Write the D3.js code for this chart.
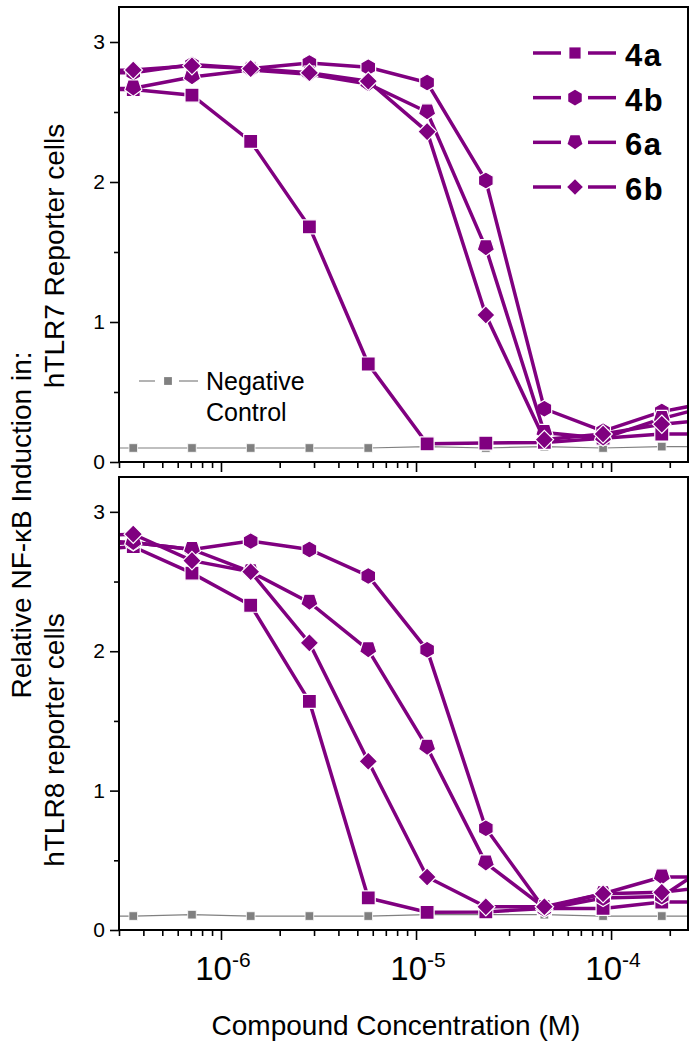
<!DOCTYPE html>
<html>
<head>
<meta charset="utf-8">
<script src="https://cdn.jsdelivr.net/npm/d3@7"></script>
<style>
  body { margin: 0; background: #fff; }
  svg text { font-family: "Liberation Sans", Arial, Helvetica, sans-serif; fill: #000; }
</style>
</head>
<body>
<div id="chart"></div>
<script>
// concentrations (M), 2-fold dilutions; first and last lie outside the plotted range
const concentrations = [1.78e-7, 3.55e-7, 7.1e-7, 1.42e-6, 2.84e-6, 5.69e-6, 1.14e-5, 2.28e-5, 4.55e-5, 9.1e-5, 1.82e-4, 3.64e-4];

// hTLR7 reporter cells
const tlr7_4a = [2.66, 2.66, 2.62, 2.29, 1.68, 0.70, 0.13, 0.135, 0.14, 0.17, 0.20, 0.20];
const tlr7_4b = [2.78, 2.78, 2.84, 2.81, 2.85, 2.82, 2.71, 2.01, 0.38, 0.22, 0.36, 0.44];
const tlr7_6a = [2.66, 2.67, 2.75, 2.80, 2.77, 2.70, 2.50, 1.53, 0.21, 0.17, 0.31, 0.42];
const tlr7_6b = [2.79, 2.80, 2.83, 2.81, 2.78, 2.72, 2.36, 1.05, 0.16, 0.20, 0.27, 0.31];
const tlr7_neg = [0.10, 0.10, 0.10, 0.10, 0.10, 0.10, 0.11, 0.10, 0.11, 0.10, 0.11, 0.11];

// hTLR8 reporter cells
const tlr8_4a = [2.72, 2.75, 2.56, 2.33, 1.64, 0.23, 0.127, 0.13, 0.155, 0.155, 0.20, 0.20];
const tlr8_4b = [2.80, 2.78, 2.73, 2.79, 2.73, 2.54, 2.01, 0.73, 0.15, 0.23, 0.24, 0.52];
const tlr8_6a = [2.76, 2.78, 2.73, 2.57, 2.35, 2.01, 1.31, 0.48, 0.16, 0.26, 0.38, 0.38];
const tlr8_6b = [2.82, 2.84, 2.65, 2.57, 2.06, 1.21, 0.38, 0.167, 0.167, 0.26, 0.27, 0.32];
const tlr8_neg = [0.10, 0.10, 0.11, 0.10, 0.10, 0.10, 0.11, 0.11, 0.11, 0.10, 0.10, 0.10];

const compounds = ["4a", "4b", "6a", "6b"];
const shapes = ["square", "hexagon", "pentagon", "diamond"];
const yMajorTicks = [0, 1, 2, 3];
const yMinorTicks = [0.5, 1.5, 2.5];
const xMajorTicks = [1e-6, 1e-5, 1e-4];
const xTickExponents = ["-6", "-5", "-4"];

const purple = "#800080";
const grey = "#808080";

// marker sizes for data points and legend
const markerSize = { square: 7, hexagon: 8.5, pentagon: 9, diamond: 9.2, grey: 4.3 };
const legendSize = { square: 5.6, hexagon: 7.8, pentagon: 7.8, diamond: 7.8, grey: 3.9 };

function shapePath(shape, r) {
  let pts;
  if (shape === "square") {
    return `M${-r},${-r}H${r}V${r}H${-r}Z`;
  } else if (shape === "diamond") {
    pts = [[0, -r], [r, 0], [0, r], [-r, 0]];
  } else if (shape === "hexagon") {
    pts = d3.range(6).map((i) => {
      const a = (Math.PI / 3) * i - Math.PI / 2;
      return [r * Math.cos(a), r * Math.sin(a)];
    });
  } else {
    // pentagon, point down
    pts = d3.range(5).map((i) => {
      const a = ((2 * Math.PI) / 5) * i + Math.PI / 2;
      return [r * Math.cos(a), r * Math.sin(a) - r * 0.1];
    });
  }
  return "M" + pts.map((p) => p.join(",")).join("L") + "Z";
}

const width = 697;
const height = 1050;

const svg = d3
  .select("#chart")
  .append("svg")
  .attr("width", width)
  .attr("height", height);

const x = d3.scaleLog().domain([3e-7, 2.48e-4]).range([119, 688]);

class DosePanel {
  constructor(cfg) {
    this.cfg = cfg;
    this.initVis();
  }

  initVis() {
    let vis = this;
    const c = vis.cfg;

    vis.y = d3.scaleLinear().domain([0, 3.25]).range([c.bottom, c.top]);

    vis.g = svg.append("g").attr("class", "panel-" + c.id);

    vis.g
      .append("clipPath")
      .attr("id", "clip-" + c.id)
      .append("rect")
      .attr("x", x.range()[0])
      .attr("y", c.top)
      .attr("width", x.range()[1] - x.range()[0])
      .attr("height", c.bottom - c.top);

    vis.plot = vis.g.append("g").attr("clip-path", `url(#clip-${c.id})`);
  }

  renderVis() {
    let vis = this;
    const c = vis.cfg;
    const y = vis.y;

    const line = d3
      .line()
      .x((d) => x(d[0]))
      .y((d) => y(d[1]));

    // negative control
    const negPts = concentrations.map((cc, i) => [cc, c.negative[i]]);
    vis.plot
      .append("path")
      .attr("d", line(negPts))
      .attr("fill", "none")
      .attr("stroke", grey)
      .attr("stroke-width", 1.2);
    vis.plot
      .selectAll(".neg-pt")
      .data(negPts)
      .join("path")
      .attr("class", "neg-pt")
      .attr("transform", (d) => `translate(${x(d[0])},${y(d[1])})`)
      .attr("d", shapePath("square", markerSize.grey))
      .attr("fill", grey)
      .attr("stroke", "#fff")
      .attr("stroke-width", 0.8);

    // compounds
    c.series.forEach((vals, si) => {
      const pts = concentrations.map((cc, i) => [cc, vals[i]]);
      const sg = vis.plot.append("g").attr("class", "series-" + compounds[si]);
      sg.append("path")
        .attr("d", line(pts))
        .attr("fill", "none")
        .attr("stroke", purple)
        .attr("stroke-width", 3.5);
      sg.selectAll(".pt")
        .data(pts)
        .join("path")
        .attr("class", "pt")
        .attr("transform", (d) => `translate(${x(d[0])},${y(d[1])})`)
        .attr("d", shapePath(shapes[si], markerSize[shapes[si]]))
        .attr("fill", purple)
        .attr("stroke", "#fff")
        .attr("stroke-width", 1.2);
    });

    // frame
    vis.g
      .append("rect")
      .attr("x", x.range()[0])
      .attr("y", c.top)
      .attr("width", x.range()[1] - x.range()[0])
      .attr("height", c.bottom - c.top)
      .attr("fill", "none")
      .attr("stroke", "#000")
      .attr("stroke-width", 2);

    // y axis
    const yAxis = d3
      .axisLeft(y)
      .tickValues(yMajorTicks)
      .tickSize(9)
      .tickSizeOuter(0)
      .tickPadding(5)
      .tickFormat(d3.format("d"));
    const yAxisG = vis.g
      .append("g")
      .attr("transform", `translate(${x.range()[0]},0)`)
      .call(yAxis);
    yAxisG.select(".domain").remove();
    yAxisG.selectAll("line").attr("stroke-width", 1.6);
    yAxisG.selectAll("text").attr("font-size", 21).style("font-family", '"Liberation Sans", Arial, sans-serif');

    const yMinor = d3.axisLeft(y).tickValues(yMinorTicks).tickSize(5).tickSizeOuter(0).tickFormat("");
    const yMinorG = vis.g
      .append("g")
      .attr("transform", `translate(${x.range()[0]},0)`)
      .call(yMinor);
    yMinorG.select(".domain").remove();
    yMinorG.selectAll("line").attr("stroke-width", 1.6);

    // x axis
    const xMinorVals = [];
    [-7, -6, -5, -4].forEach((e) => {
      d3.range(2, 10).forEach((m) => {
        const v = m * Math.pow(10, e);
        if (v >= x.domain()[0] && v <= x.domain()[1]) xMinorVals.push(v);
      });
    });

    const xAxis = d3.axisBottom(x).tickValues(xMajorTicks).tickSize(10).tickSizeOuter(0).tickFormat("");
    const xAxisG = vis.g
      .append("g")
      .attr("transform", `translate(0,${c.bottom})`)
      .call(xAxis);
    xAxisG.select(".domain").remove();
    xAxisG.selectAll("line").attr("stroke-width", 1.6);

    const xMinor = d3.axisBottom(x).tickValues(xMinorVals).tickSize(6).tickSizeOuter(0).tickFormat("");
    const xMinorG = vis.g
      .append("g")
      .attr("transform", `translate(0,${c.bottom})`)
      .call(xMinor);
    xMinorG.select(".domain").remove();
    xMinorG.selectAll("line").attr("stroke-width", 1.6);

    if (c.showXLabels) {
      xMajorTicks.forEach((v, i) => {
        const t = vis.g
          .append("text")
          .attr("x", x(v) + 2)
          .attr("y", c.bottom + 50)
          .attr("text-anchor", "middle")
          .attr("font-size", 33);
        t.append("tspan").text("10");
        t.append("tspan")
          .attr("font-size", 21)
          .attr("dy", -13)
          .text(xTickExponents[i]);
      });
    }

    // second line of the y title
    vis.g
      .append("text")
      .attr("transform", `translate(64,${c.titleY}) rotate(-90)`)
      .attr("text-anchor", "middle")
      .attr("font-size", 28)
      .text(c.title);
  }
}

const topPanel = new DosePanel({
  id: "tlr7",
  top: 7,
  bottom: 462,
  series: [tlr7_4a, tlr7_4b, tlr7_6a, tlr7_6b],
  negative: tlr7_neg,
  showXLabels: false,
  title: "hTLR7 Reporter cells",
  titleY: 256,
});
topPanel.renderVis();

const bottomPanel = new DosePanel({
  id: "tlr8",
  top: 477,
  bottom: 930,
  series: [tlr8_4a, tlr8_4b, tlr8_6a, tlr8_6b],
  negative: tlr8_neg,
  showXLabels: true,
  title: "hTLR8 reporter cells",
  titleY: 740,
});
bottomPanel.renderVis();

// legend for compounds
const legend = svg.append("g").attr("class", "legend");
const legendY = d3.scalePoint().domain(compounds).range([53, 187]);
compounds.forEach((name, i) => {
  const ly = legendY(name);
  const lg = legend.append("g").attr("transform", `translate(575,${ly})`);
  lg.append("line").attr("x1", -42).attr("x2", -14).attr("y1", 0).attr("y2", 0)
    .attr("stroke", purple).attr("stroke-width", 3.5);
  lg.append("line").attr("x1", 13).attr("x2", 41).attr("y1", 0).attr("y2", 0)
    .attr("stroke", purple).attr("stroke-width", 3.5);
  lg.append("path").attr("d", shapePath(shapes[i], legendSize[shapes[i]])).attr("fill", purple);
  lg.append("text")
    .attr("x", 50)
    .attr("y", 13)
    .attr("font-size", 31)
    .attr("font-weight", "bold")
    .attr("letter-spacing", 1.5)
    .text(name);
});

// negative control legend
const negLegend = svg.append("g").attr("transform", "translate(168,381)");
negLegend.append("line").attr("x1", -29).attr("x2", -13).attr("stroke", grey).attr("stroke-width", 1.2);
negLegend.append("line").attr("x1", 11).attr("x2", 30).attr("stroke", grey).attr("stroke-width", 1.2);
negLegend.append("path").attr("d", shapePath("square", legendSize.grey)).attr("fill", grey);
negLegend.append("text").attr("x", 38).attr("y", 9).attr("font-size", 25).text("Negative");
negLegend.append("text").attr("x", 38).attr("y", 40).attr("font-size", 25).text("Control");

// shared titles
svg.append("text")
  .attr("transform", "translate(31,525) rotate(-90)")
  .attr("text-anchor", "middle")
  .attr("font-size", 28)
  .text("Relative NF-\u03BAB Induction in:");

svg.append("text")
  .attr("x", 396)
  .attr("y", 1035)
  .attr("text-anchor", "middle")
  .attr("font-size", 28)
  .text("Compound Concentration (M)");
</script>
</body>
</html>
